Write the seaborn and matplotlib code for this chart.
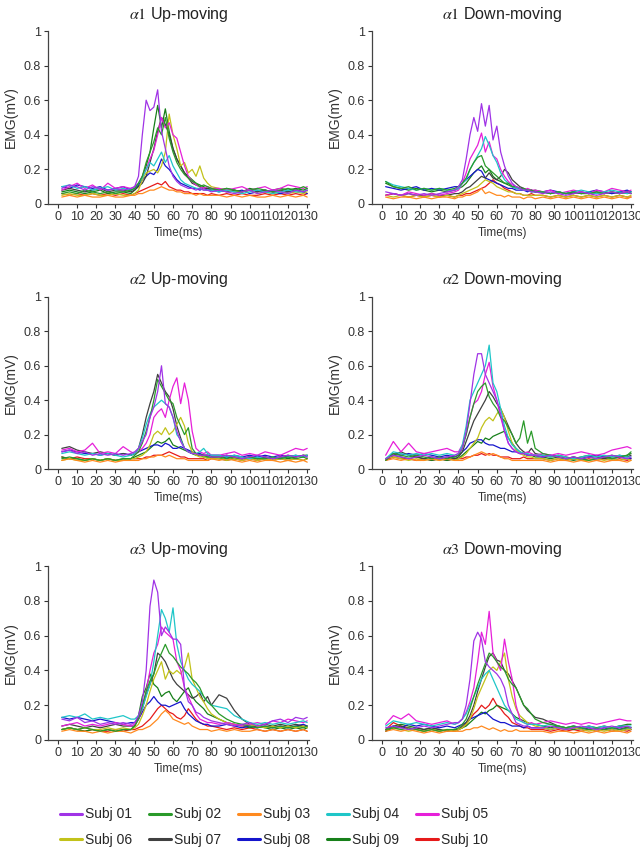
import pandas as pd
import seaborn as sns
import matplotlib.pyplot as plt
from matplotlib.lines import Line2D

# time axis (ms) - finer around the burst
time_ms = [2, 6, 10, 14, 18, 22, 26, 30, 34, 38,
           40, 42, 44, 46, 48, 50, 52, 54, 56, 58, 60, 62, 64, 66, 68, 70, 72, 74, 76, 78, 80,
           84, 88, 92, 96, 100, 104, 108, 112, 116, 120, 124, 128, 130]

subjects = ["Subj 01", "Subj 02", "Subj 03", "Subj 04", "Subj 05",
            "Subj 06", "Subj 07", "Subj 08", "Subj 09", "Subj 10"]
colors = ["#a033e6", "#2a9a2a", "#ff8a1f", "#1fc6c8", "#e61fd9",
          "#c2c21a", "#404040", "#1515cc", "#17801a", "#e61a1a"]

# EMG values in 0.01 mV, one row per subject (01..10)
a1_up = [
    [9, 11, 10, 8, 10, 9, 8, 9, 8, 9, 10, 16, 40, 60, 54, 56, 66, 42, 32, 22, 16, 13, 11, 10, 9, 9, 8, 9, 8, 8, 7, 8, 7, 6, 7, 8, 6, 7, 8, 7, 6, 8, 7, 8],
    [6, 7, 6, 8, 7, 6, 7, 6, 7, 8, 9, 12, 16, 24, 30, 36, 44, 40, 50, 38, 30, 24, 20, 17, 15, 13, 12, 10, 11, 10, 9, 8, 9, 8, 7, 8, 9, 8, 7, 8, 9, 8, 10, 9],
    [4, 5, 4, 5, 4, 4, 5, 4, 4, 5, 5, 6, 6, 7, 8, 8, 9, 10, 9, 8, 8, 7, 7, 6, 6, 6, 5, 6, 5, 5, 5, 5, 4, 5, 4, 5, 4, 4, 5, 4, 5, 4, 5, 4],
    [10, 11, 9, 10, 8, 9, 10, 8, 9, 8, 9, 12, 15, 20, 24, 22, 26, 30, 24, 28, 22, 18, 14, 12, 11, 10, 9, 9, 8, 8, 8, 7, 8, 7, 6, 7, 8, 7, 6, 7, 8, 7, 7, 8],
    [8, 10, 12, 9, 11, 8, 12, 9, 10, 9, 10, 12, 16, 20, 26, 31, 40, 50, 44, 47, 40, 38, 30, 22, 16, 13, 11, 10, 9, 10, 9, 9, 8, 9, 10, 8, 9, 10, 8, 9, 11, 10, 9, 10],
    [5, 6, 5, 5, 6, 5, 5, 6, 5, 5, 6, 8, 14, 18, 19, 20, 18, 22, 30, 52, 40, 32, 22, 24, 18, 20, 16, 22, 15, 12, 10, 9, 8, 7, 7, 8, 6, 7, 6, 7, 6, 7, 6, 7],
    [8, 9, 8, 7, 8, 9, 7, 8, 8, 7, 8, 10, 12, 16, 24, 32, 42, 50, 46, 40, 32, 26, 22, 18, 15, 12, 11, 10, 9, 9, 8, 8, 7, 8, 7, 8, 7, 8, 7, 8, 7, 8, 7, 8],
    [10, 9, 11, 10, 9, 10, 8, 9, 10, 8, 9, 11, 14, 16, 18, 17, 20, 26, 22, 20, 17, 14, 12, 11, 10, 9, 9, 8, 9, 8, 8, 7, 8, 7, 8, 6, 7, 8, 7, 6, 7, 8, 7, 6],
    [7, 8, 7, 6, 7, 8, 6, 7, 7, 6, 8, 11, 16, 22, 30, 44, 57, 44, 55, 42, 32, 26, 22, 18, 16, 14, 12, 11, 10, 9, 9, 8, 9, 8, 7, 9, 8, 7, 8, 9, 8, 9, 8, 9],
    [6, 5, 6, 5, 6, 5, 6, 5, 6, 5, 6, 7, 8, 9, 10, 11, 12, 11, 13, 10, 9, 8, 8, 7, 7, 6, 6, 6, 6, 5, 6, 5, 6, 5, 6, 5, 5, 6, 5, 6, 5, 6, 5, 6],
]

a1_down = [
    [7, 6, 5, 6, 5, 6, 5, 6, 7, 8, 10, 14, 26, 40, 50, 42, 58, 45, 57, 37, 45, 30, 22, 16, 12, 10, 9, 8, 8, 7, 7, 6, 7, 6, 5, 6, 7, 6, 5, 6, 7, 6, 7, 6],
    [13, 10, 9, 10, 8, 9, 8, 9, 8, 9, 10, 12, 15, 20, 24, 27, 28, 22, 20, 18, 16, 14, 12, 12, 10, 10, 9, 9, 8, 8, 7, 7, 6, 7, 6, 7, 6, 6, 7, 6, 7, 6, 7, 6],
    [4, 3, 4, 4, 3, 4, 3, 4, 4, 3, 4, 4, 5, 5, 6, 7, 9, 6, 7, 6, 5, 5, 4, 5, 4, 4, 4, 3, 4, 4, 3, 4, 3, 4, 3, 4, 3, 4, 3, 4, 3, 4, 3, 4],
    [13, 11, 10, 9, 8, 9, 8, 9, 8, 8, 9, 12, 14, 20, 24, 28, 32, 39, 34, 28, 24, 18, 14, 12, 10, 9, 9, 8, 8, 7, 7, 7, 6, 7, 6, 7, 8, 7, 6, 7, 8, 7, 6, 7],
    [5, 6, 5, 7, 6, 5, 6, 5, 6, 7, 8, 12, 18, 26, 30, 34, 41, 30, 36, 28, 26, 20, 16, 13, 11, 10, 9, 8, 9, 8, 8, 7, 8, 6, 7, 8, 7, 6, 8, 7, 9, 8, 7, 8],
    [5, 4, 5, 4, 5, 4, 5, 4, 5, 4, 5, 6, 7, 8, 9, 10, 12, 14, 13, 12, 10, 9, 8, 7, 7, 6, 6, 5, 5, 5, 5, 5, 4, 5, 4, 5, 4, 5, 4, 5, 4, 5, 4, 5],
    [5, 6, 5, 6, 5, 5, 6, 5, 5, 6, 6, 7, 9, 10, 12, 14, 16, 15, 18, 15, 14, 16, 20, 18, 14, 12, 10, 9, 8, 8, 7, 7, 6, 7, 6, 6, 7, 6, 7, 6, 7, 6, 7, 6],
    [10, 9, 8, 9, 10, 8, 9, 8, 9, 10, 10, 12, 14, 16, 18, 20, 19, 15, 14, 13, 12, 11, 10, 9, 9, 8, 8, 8, 7, 8, 7, 7, 8, 7, 6, 7, 6, 7, 8, 7, 6, 7, 8, 7],
    [12, 10, 9, 8, 9, 8, 7, 8, 7, 8, 9, 10, 12, 15, 18, 20, 22, 18, 20, 16, 14, 13, 12, 11, 10, 9, 9, 8, 8, 7, 8, 7, 6, 7, 6, 7, 6, 7, 6, 7, 6, 7, 6, 7],
    [5, 6, 5, 4, 5, 4, 5, 4, 5, 4, 5, 5, 6, 6, 7, 8, 9, 10, 12, 14, 12, 11, 9, 8, 7, 6, 6, 5, 5, 6, 5, 5, 4, 5, 4, 5, 4, 5, 4, 5, 4, 5, 4, 4],
]

a2_up = [
    [10, 11, 9, 10, 8, 9, 8, 9, 8, 9, 10, 12, 16, 20, 30, 36, 45, 60, 38, 36, 30, 22, 16, 12, 10, 9, 9, 8, 8, 8, 7, 7, 8, 7, 6, 7, 8, 7, 6, 7, 8, 7, 8, 7],
    [6, 7, 6, 5, 6, 5, 6, 5, 6, 6, 8, 10, 15, 22, 30, 40, 52, 48, 44, 40, 38, 30, 25, 20, 24, 12, 9, 8, 8, 7, 7, 7, 6, 7, 6, 7, 6, 6, 7, 6, 7, 6, 7, 6],
    [5, 6, 5, 4, 5, 4, 5, 4, 5, 5, 5, 5, 6, 6, 7, 7, 8, 8, 7, 8, 7, 6, 6, 6, 5, 5, 5, 5, 5, 5, 6, 5, 6, 5, 4, 5, 4, 5, 5, 4, 5, 4, 5, 4],
    [9, 10, 9, 8, 9, 8, 9, 8, 7, 8, 9, 12, 18, 26, 32, 36, 38, 40, 38, 36, 30, 20, 17, 12, 10, 9, 9, 10, 12, 9, 8, 8, 7, 8, 7, 6, 7, 6, 7, 6, 7, 8, 7, 8],
    [11, 12, 10, 11, 15, 9, 10, 9, 13, 10, 9, 10, 12, 15, 20, 30, 33, 35, 30, 40, 48, 53, 38, 50, 40, 22, 12, 10, 9, 10, 8, 8, 9, 10, 8, 9, 8, 10, 9, 8, 10, 12, 11, 12],
    [5, 6, 5, 5, 6, 5, 6, 5, 5, 6, 6, 7, 8, 10, 14, 20, 22, 20, 24, 20, 22, 26, 30, 25, 15, 10, 8, 7, 7, 6, 6, 6, 5, 6, 5, 6, 5, 6, 5, 6, 5, 6, 5, 6],
    [12, 13, 11, 10, 9, 10, 9, 8, 9, 8, 9, 12, 20, 30, 38, 45, 55, 50, 45, 42, 35, 25, 18, 12, 10, 9, 9, 8, 8, 8, 7, 7, 8, 7, 6, 7, 6, 7, 6, 7, 8, 7, 8, 7],
    [10, 11, 10, 9, 9, 8, 9, 8, 9, 8, 9, 10, 11, 12, 13, 14, 14, 13, 15, 14, 12, 12, 13, 12, 11, 10, 9, 9, 8, 8, 8, 8, 7, 8, 7, 8, 7, 8, 7, 8, 7, 8, 7, 8],
    [7, 6, 6, 5, 6, 5, 6, 5, 6, 6, 7, 8, 9, 10, 12, 14, 16, 15, 16, 18, 14, 13, 12, 11, 10, 9, 8, 8, 7, 7, 7, 6, 7, 6, 6, 7, 6, 7, 6, 7, 6, 7, 8, 8],
    [7, 6, 7, 6, 6, 5, 6, 5, 5, 6, 6, 6, 6, 7, 7, 8, 8, 8, 9, 10, 9, 8, 7, 7, 6, 6, 6, 6, 6, 5, 6, 6, 5, 6, 5, 6, 5, 6, 5, 6, 5, 6, 5, 6],
]

a2_down = [
    [6, 8, 7, 6, 7, 8, 7, 6, 7, 8, 9, 12, 22, 38, 55, 67, 67, 55, 50, 45, 40, 32, 22, 15, 12, 10, 9, 9, 8, 8, 8, 7, 8, 7, 6, 7, 6, 7, 6, 7, 8, 7, 6, 7],
    [5, 9, 8, 7, 8, 7, 6, 7, 6, 7, 8, 12, 20, 30, 38, 45, 48, 50, 42, 38, 35, 30, 28, 24, 20, 15, 18, 28, 15, 22, 12, 9, 8, 7, 6, 7, 6, 5, 6, 7, 6, 7, 8, 10],
    [5, 6, 5, 6, 5, 5, 6, 5, 6, 5, 5, 5, 6, 7, 8, 9, 10, 9, 8, 9, 8, 7, 6, 6, 5, 5, 5, 5, 5, 5, 5, 5, 4, 5, 5, 4, 5, 4, 5, 4, 5, 5, 4, 5],
    [6, 10, 9, 8, 9, 8, 9, 8, 9, 8, 9, 14, 25, 40, 45, 50, 55, 60, 72, 50, 45, 35, 25, 18, 14, 12, 10, 9, 9, 8, 8, 8, 7, 8, 7, 6, 7, 8, 7, 8, 7, 8, 7, 7],
    [8, 16, 10, 15, 10, 9, 10, 11, 12, 10, 10, 14, 20, 30, 38, 40, 45, 55, 62, 48, 40, 30, 22, 15, 12, 10, 9, 9, 10, 9, 8, 9, 8, 9, 8, 9, 10, 9, 8, 9, 11, 12, 13, 12],
    [6, 7, 6, 5, 6, 5, 6, 5, 6, 5, 6, 7, 9, 12, 15, 18, 24, 28, 30, 28, 32, 35, 30, 22, 15, 11, 9, 8, 7, 7, 6, 6, 5, 6, 5, 6, 5, 5, 6, 5, 6, 5, 6, 5],
    [5, 8, 10, 8, 7, 6, 7, 6, 7, 6, 7, 10, 16, 22, 28, 32, 36, 40, 45, 42, 38, 35, 30, 25, 20, 15, 12, 10, 9, 12, 9, 8, 7, 8, 7, 6, 7, 8, 7, 6, 7, 8, 7, 8],
    [5, 9, 8, 9, 8, 9, 8, 7, 8, 7, 8, 10, 12, 15, 16, 17, 17, 15, 14, 14, 13, 12, 12, 11, 10, 10, 9, 9, 8, 8, 8, 7, 8, 7, 6, 7, 6, 7, 8, 7, 6, 7, 6, 6],
    [6, 8, 7, 6, 7, 6, 5, 6, 5, 6, 6, 8, 10, 12, 14, 16, 15, 18, 17, 19, 20, 21, 22, 18, 15, 12, 10, 9, 8, 8, 7, 7, 6, 7, 6, 5, 6, 7, 6, 7, 8, 7, 8, 9],
    [5, 7, 6, 6, 5, 6, 5, 6, 5, 6, 6, 6, 7, 7, 8, 8, 9, 8, 9, 8, 8, 7, 7, 7, 6, 6, 6, 7, 6, 6, 6, 6, 5, 6, 5, 6, 5, 6, 5, 6, 5, 6, 5, 6],
]

a3_up = [
    [12, 11, 13, 10, 11, 9, 10, 9, 10, 9, 10, 14, 22, 40, 77, 92, 85, 60, 65, 62, 58, 58, 55, 30, 22, 20, 16, 15, 13, 12, 11, 10, 9, 8, 9, 10, 8, 9, 11, 12, 10, 13, 12, 13],
    [6, 7, 6, 7, 6, 5, 6, 5, 6, 6, 8, 12, 20, 28, 34, 38, 45, 50, 55, 50, 48, 45, 42, 40, 38, 35, 33, 30, 25, 22, 20, 15, 12, 10, 9, 8, 7, 8, 7, 8, 7, 8, 7, 8],
    [5, 6, 5, 5, 4, 5, 4, 5, 5, 4, 5, 6, 6, 7, 8, 10, 12, 15, 17, 15, 12, 11, 10, 9, 10, 8, 7, 6, 6, 6, 5, 6, 5, 6, 5, 5, 6, 5, 6, 5, 6, 5, 6, 5],
    [13, 14, 13, 15, 12, 13, 12, 13, 14, 12, 12, 14, 18, 25, 32, 45, 60, 75, 70, 62, 76, 55, 45, 40, 35, 32, 30, 28, 25, 22, 20, 19, 18, 14, 12, 10, 9, 10, 9, 10, 9, 10, 11, 10],
    [8, 9, 10, 8, 9, 8, 9, 10, 9, 8, 9, 12, 18, 28, 40, 50, 55, 65, 62, 60, 58, 45, 40, 30, 25, 20, 15, 12, 11, 10, 10, 9, 10, 9, 8, 9, 10, 9, 11, 10, 12, 11, 10, 11],
    [6, 7, 6, 7, 6, 6, 7, 6, 7, 6, 7, 9, 14, 20, 28, 35, 40, 45, 35, 40, 38, 40, 38, 42, 50, 35, 30, 25, 22, 18, 15, 12, 10, 9, 8, 9, 8, 7, 8, 7, 8, 7, 8, 7],
    [8, 9, 8, 7, 8, 7, 8, 9, 8, 8, 8, 12, 18, 26, 32, 38, 50, 48, 45, 40, 35, 32, 30, 28, 26, 24, 25, 27, 22, 25, 20, 26, 24, 17, 12, 9, 8, 9, 8, 9, 8, 9, 8, 8],
    [13, 12, 13, 12, 11, 12, 11, 10, 9, 10, 10, 12, 16, 20, 22, 25, 22, 20, 20, 19, 20, 21, 22, 18, 15, 13, 11, 10, 9, 9, 8, 8, 9, 8, 7, 8, 7, 8, 7, 8, 7, 8, 9, 8],
    [6, 7, 6, 5, 6, 5, 6, 5, 6, 6, 8, 14, 25, 30, 38, 32, 30, 25, 27, 28, 24, 22, 25, 28, 30, 25, 22, 20, 18, 15, 14, 12, 10, 9, 8, 7, 8, 7, 6, 7, 6, 7, 6, 7],
    [6, 7, 6, 5, 6, 5, 5, 6, 5, 6, 6, 7, 8, 10, 12, 15, 18, 20, 18, 16, 15, 13, 12, 14, 18, 15, 12, 10, 9, 8, 8, 7, 6, 7, 6, 7, 6, 5, 6, 5, 6, 5, 6, 5],
]

a3_down = [
    [7, 8, 7, 6, 7, 8, 7, 8, 9, 10, 10, 12, 20, 35, 57, 62, 58, 45, 42, 40, 38, 35, 30, 20, 15, 10, 9, 8, 8, 7, 7, 7, 8, 7, 6, 7, 8, 7, 6, 7, 8, 7, 8, 7],
    [6, 7, 6, 7, 6, 5, 6, 5, 6, 6, 7, 9, 12, 18, 25, 32, 38, 44, 50, 48, 45, 42, 40, 35, 32, 30, 25, 20, 18, 15, 12, 10, 9, 8, 7, 8, 7, 6, 7, 6, 7, 6, 7, 7],
    [5, 6, 5, 6, 5, 4, 5, 4, 5, 5, 5, 5, 6, 6, 7, 7, 8, 7, 6, 7, 6, 5, 6, 5, 5, 6, 5, 5, 5, 5, 5, 5, 4, 5, 5, 4, 5, 4, 5, 4, 5, 5, 4, 5],
    [8, 11, 10, 9, 10, 9, 8, 9, 10, 9, 10, 12, 15, 20, 25, 30, 35, 38, 40, 35, 30, 25, 20, 17, 15, 12, 11, 10, 9, 9, 9, 8, 9, 8, 7, 8, 7, 8, 7, 8, 7, 8, 8, 8],
    [9, 14, 12, 15, 11, 10, 9, 10, 11, 9, 10, 12, 16, 22, 30, 45, 62, 55, 74, 50, 45, 40, 58, 45, 35, 20, 12, 10, 9, 10, 9, 10, 11, 10, 9, 10, 9, 10, 9, 10, 11, 12, 11, 11],
    [6, 7, 6, 5, 6, 5, 6, 5, 6, 5, 6, 7, 9, 12, 18, 25, 30, 35, 40, 42, 40, 45, 50, 35, 25, 18, 14, 12, 10, 9, 8, 7, 6, 7, 6, 7, 6, 5, 6, 5, 6, 5, 6, 6],
    [5, 7, 8, 6, 7, 6, 7, 6, 5, 6, 6, 8, 10, 14, 20, 28, 35, 42, 48, 50, 46, 45, 40, 38, 34, 30, 25, 20, 17, 15, 13, 12, 10, 8, 7, 8, 7, 8, 7, 8, 7, 8, 7, 7],
    [6, 8, 7, 9, 8, 9, 8, 7, 8, 7, 8, 9, 10, 12, 13, 14, 15, 16, 14, 12, 11, 10, 10, 9, 8, 8, 8, 7, 8, 7, 7, 7, 6, 7, 6, 7, 6, 7, 6, 7, 6, 7, 6, 6],
    [5, 8, 9, 8, 7, 6, 7, 6, 5, 6, 6, 7, 8, 10, 12, 14, 16, 15, 17, 18, 20, 19, 18, 17, 15, 13, 12, 11, 10, 9, 9, 8, 7, 8, 7, 6, 7, 6, 7, 6, 7, 8, 9, 9],
    [6, 10, 8, 7, 6, 5, 6, 5, 6, 5, 6, 7, 9, 12, 15, 17, 20, 18, 20, 24, 20, 18, 15, 13, 10, 9, 8, 7, 7, 6, 6, 6, 5, 6, 5, 6, 5, 6, 5, 6, 5, 6, 5, 6],
]

titles = [r"$\alpha1$ Up-moving", r"$\alpha1$ Down-moving",
          r"$\alpha2$ Up-moving", r"$\alpha2$ Down-moving",
          r"$\alpha3$ Up-moving", r"$\alpha3$ Down-moving"]
panel_data = [a1_up, a1_down, a2_up, a2_down, a3_up, a3_down]

sns.set_style("ticks")
plt.rcParams['font.family'] = ['Liberation Sans', 'DejaVu Sans']
plt.rcParams['mathtext.fontset'] = 'stix'

palette = dict(zip(subjects, colors))

fig = plt.figure(figsize=(6.4, 8.52), dpi=100)
lefts = [0.075, 0.581]
rows = [(0.7606, 0.203), (0.4495, 0.202), (0.1315, 0.204)]

for i, (title, rows_vals) in enumerate(zip(titles, panel_data)):
    for s, r in zip(subjects, rows_vals):
        if len(r) != len(time_ms):
            raise ValueError(f"{title} {s}: {len(r)} values")
    bottom, h = rows[i // 2]
    ax = fig.add_axes([lefts[i % 2], bottom, 0.408, h])
    df = pd.DataFrame([(s, t, v / 100) for s, r in zip(subjects, rows_vals)
                       for t, v in zip(time_ms, r)],
                      columns=["subject", "time", "emg"])
    # subject 01 drawn last so it sits on top
    sns.lineplot(data=df, x="time", y="emg", hue="subject", hue_order=subjects[::-1],
                 palette=palette, estimator=None, linewidth=0.9, legend=False, ax=ax)
    ax.set_xlim(-5.2, 131)
    ax.set_ylim(0, 1)
    ax.set_xticks(range(0, 131, 10))
    ax.set_yticks([0, 0.2, 0.4, 0.6, 0.8, 1])
    ax.set_yticklabels(["0", "0.2", "0.4", "0.6", "0.8", "1"])
    ax.tick_params(labelsize=9, length=3, width=0.8, colors="#333333", pad=2)
    ax.set_xlabel("Time(ms)", fontsize=8.5, color="#333333", labelpad=3)
    ax.set_ylabel("EMG(mV)", fontsize=10, color="#333333", labelpad=4)
    ax.set_title(title, fontsize=11.5, color="#222222", pad=9)
    sns.despine(ax=ax)
    for sp in ("left", "bottom"):
        ax.spines[sp].set_color("#444444")
        ax.spines[sp].set_linewidth(0.9)

handles = [Line2D([], [], color=c, lw=2.2) for c in colors]
order = [0, 5, 1, 6, 2, 7, 3, 8, 4, 9]
fig.legend([handles[k] for k in order], [subjects[k] for k in order],
           ncol=5, loc="center", bbox_to_anchor=(0.428, 0.029), frameon=False,
           fontsize=10, handlelength=1.6, handletextpad=0.2,
           columnspacing=1.2, labelspacing=0.85)

fig.savefig("out.png", dpi=100)
